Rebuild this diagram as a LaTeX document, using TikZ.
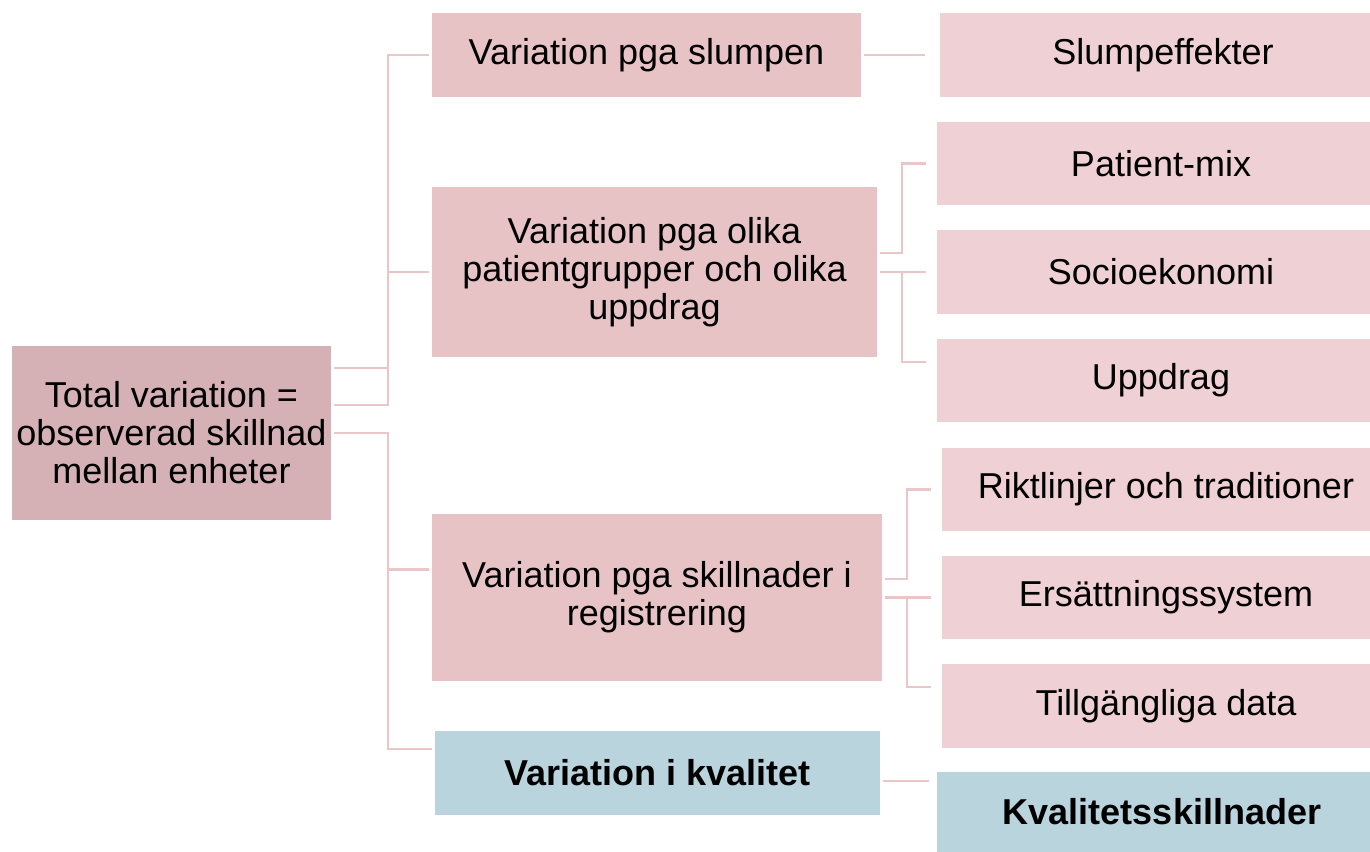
\documentclass[tikz,border=0pt]{standalone}
\usepackage{fontspec}
\setmainfont{Liberation Sans}
\usetikzlibrary{calc}
\definecolor{rootc}{HTML}{D5B0B5}
\definecolor{midc}{HTML}{E8C3C6}
\definecolor{leafc}{HTML}{EFD1D5}
\definecolor{bluec}{HTML}{BAD4DD}
\definecolor{linec}{HTML}{EBC6C9}
\tikzset{
  box/.style={anchor=north west, inner sep=0pt, outer sep=0pt, align=center,
    font=\fontsize{36}{38}\selectfont, text=black},
  rootbox/.style={box, fill=rootc},
  midbox/.style={box, fill=midc},
  leafbox/.style={box, fill=leafc},
  bluebox/.style={box, fill=bluec, font=\fontsize{36}{38}\selectfont\bfseries},
  conn/.style={draw=linec, line width=2.3pt}
}
\begin{document}
\begin{tikzpicture}[x=1pt,y=-1pt]
\useasboundingbox (0,0) rectangle (1370,851);
\clip (0,0) rectangle (1370,851);
% boxes
\node[rootbox, minimum width=319pt, minimum height=174pt] (root) at (12,346) {Total variation =\\observerad skillnad\\mellan enheter};
\node[midbox, minimum width=429pt, minimum height=84pt] (slump) at (432,13) {Variation pga slumpen};
\node[midbox, minimum width=445pt, minimum height=170pt] (olika) at (432,187) {Variation pga olika\\patientgrupper och olika\\uppdrag};
\node[midbox, minimum width=450pt, minimum height=167pt] (reg) at (432,514) {Variation pga skillnader i\\registrering};
\node[bluebox, minimum width=445pt, minimum height=84pt] (kval) at (435,731) {Variation i kvalitet};
\node[leafbox, minimum width=446pt, minimum height=84pt] (slumpe) at (940,13) {Slumpeffekter};
\node[leafbox, minimum width=448pt, minimum height=83pt] (patmix) at (937,122) {Patient-mix};
\node[leafbox, minimum width=448pt, minimum height=84pt] (socio) at (937,230) {Socioekonomi};
\node[leafbox, minimum width=448pt, minimum height=83pt] (uppd) at (937,339) {Uppdrag};
\node[leafbox, minimum width=448pt, minimum height=83pt] (rikt) at (942,448) {Riktlinjer och traditioner};
\node[leafbox, minimum width=448pt, minimum height=83pt] (ers) at (942,556) {Ersättningssystem};
\node[leafbox, minimum width=448pt, minimum height=84pt] (till) at (942,664) {Tillgängliga data};
\node[bluebox, minimum width=450pt, minimum height=80pt] (kvals) at (937,772) {Kvalitetsskillnader};
% root connectors
\draw[conn] ($(root.east)+(3,-65)$) -| ($(slump.west)+(-44,0)$) -- ($(slump.west)+(-3,0)$);
\draw[conn] ($(root.east)+(3,-28)$) -| ($(olika.west)+(-44,0)$) -- ($(olika.west)+(-3,0)$);
\draw[conn] ($(root.east)+(3,0)$) -| ($(reg.west)+(-44,-28)$) -- ($(reg.west)+(-3,-28)$);
\draw[conn] ($(root.east)+(3,0)$) -| ($(kval.west)+(-47,-24)$) -- ($(kval.west)+(-3,-24)$);
% slump
\draw[conn] ($(slump.east)+(3,0)$) -- ($(slumpe.west)+(-15,0)$);
% olika
\draw[conn] ($(olika.east)+(3,-19)$) -| ($(patmix.west)+(-35,0)$) -- ($(patmix.west)+(-11,0)$);
\draw[conn] ($(olika.east)+(3,0)$) -- ($(socio.west)+(-11,0)$);
\draw[conn] ($(socio.west)+(-35,0)$) |- ($(uppd.west)+(-11,-18.5)$);
% registrering
\draw[conn] ($(reg.east)+(3,-18.5)$) -| ($(rikt.west)+(-35,0)$) -- ($(rikt.west)+(-11,0)$);
\draw[conn] ($(reg.east)+(3,0)$) -- ($(ers.west)+(-11,0)$);
\draw[conn] ($(ers.west)+(-35,0)$) |- ($(till.west)+(-11,-19)$);
% kvalitet
\draw[conn] ($(kval.east)+(3,8)$) -- ($(kvals.west)+(-8,-31)$);
\end{tikzpicture}
\end{document}
